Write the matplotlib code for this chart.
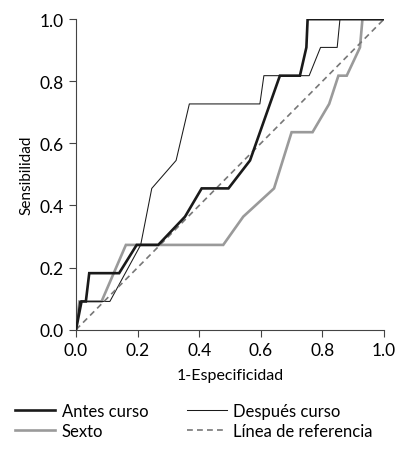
import matplotlib
matplotlib.use("Agg")
import matplotlib.pyplot as plt

plt.rcParams['font.family'] = ['Lato', 'DejaVu Sans']

antes_x = [0.0, 0.018, 0.032, 0.043, 0.14, 0.197, 0.267, 0.354, 0.408, 0.495, 0.565, 0.662, 0.727, 0.748, 0.752, 1.0]
antes_y = [0.0, 0.091, 0.091, 0.182, 0.182, 0.273, 0.273, 0.364, 0.455, 0.455, 0.545, 0.818, 0.818, 0.909, 1.0, 1.0]

despues_x = [0.0, 0.012, 0.11, 0.21, 0.246, 0.325, 0.368, 0.597, 0.61, 0.757, 0.794, 0.848, 0.857, 1.0]
despues_y = [0.0, 0.091, 0.091, 0.273, 0.455, 0.545, 0.727, 0.727, 0.818, 0.818, 0.909, 0.909, 1.0, 1.0]

sexto_x = [0.0, 0.011, 0.083, 0.162, 0.478, 0.543, 0.643, 0.70, 0.768, 0.822, 0.852, 0.879, 0.922, 0.93, 1.0]
sexto_y = [0.0, 0.091, 0.091, 0.273, 0.273, 0.364, 0.455, 0.636, 0.636, 0.727, 0.818, 0.818, 0.909, 1.0, 1.0]

ref_x = [0.0, 1.0]
ref_y = [0.0, 1.0]

ticks = [0.0, 0.2, 0.4, 0.6, 0.8, 1.0]
tick_labels = ["0.0", "0.2", "0.4", "0.6", "0.8", "1.0"]

fig = plt.figure(figsize=(4.0, 4.56), dpi=100)
ax = fig.add_axes([0.19, 0.2748, 0.77, 0.681])

l1, = ax.plot(antes_x, antes_y, color='#1a1a1a', lw=1.9, label='Antes curso', solid_joinstyle='miter')
l3, = ax.plot(sexto_x, sexto_y, color='#9a9a9a', lw=1.9, label='Sexto', solid_joinstyle='miter')
l2, = ax.plot(despues_x, despues_y, color='#1a1a1a', lw=0.75, label='Después curso')
l4, = ax.plot(ref_x, ref_y, color='#777777', lw=1.2, ls=(0, (3.5, 2.5)), label='Línea de referencia')
l1.set_zorder(3)

ax.set_xlim(0, 1)
ax.set_ylim(0, 1)
ax.set_xticks(ticks)
ax.set_xticklabels(tick_labels)
ax.set_yticks(ticks)
ax.set_yticklabels(tick_labels)
for s in ['top', 'right']:
    ax.spines[s].set_visible(False)
for s in ['left', 'bottom']:
    ax.spines[s].set_color('#444444')
    ax.spines[s].set_linewidth(0.8)
ax.tick_params(direction='out', length=5, width=0.8, color='#444444', labelsize=12.5, pad=4)
ax.set_xlabel('1-Especificidad', fontsize=11.5, labelpad=7)
ax.set_ylabel('Sensibilidad', fontsize=11, labelpad=4)

leg = fig.legend(handles=[l1, l3, l2, l4], loc='upper left', bbox_to_anchor=(0.021, 0.128), ncol=2,
                 frameon=False, fontsize=12, handlelength=2.4, handletextpad=0.4,
                 columnspacing=2.3, labelspacing=0.2, borderaxespad=0)

fig.savefig('out.png', dpi=100)
